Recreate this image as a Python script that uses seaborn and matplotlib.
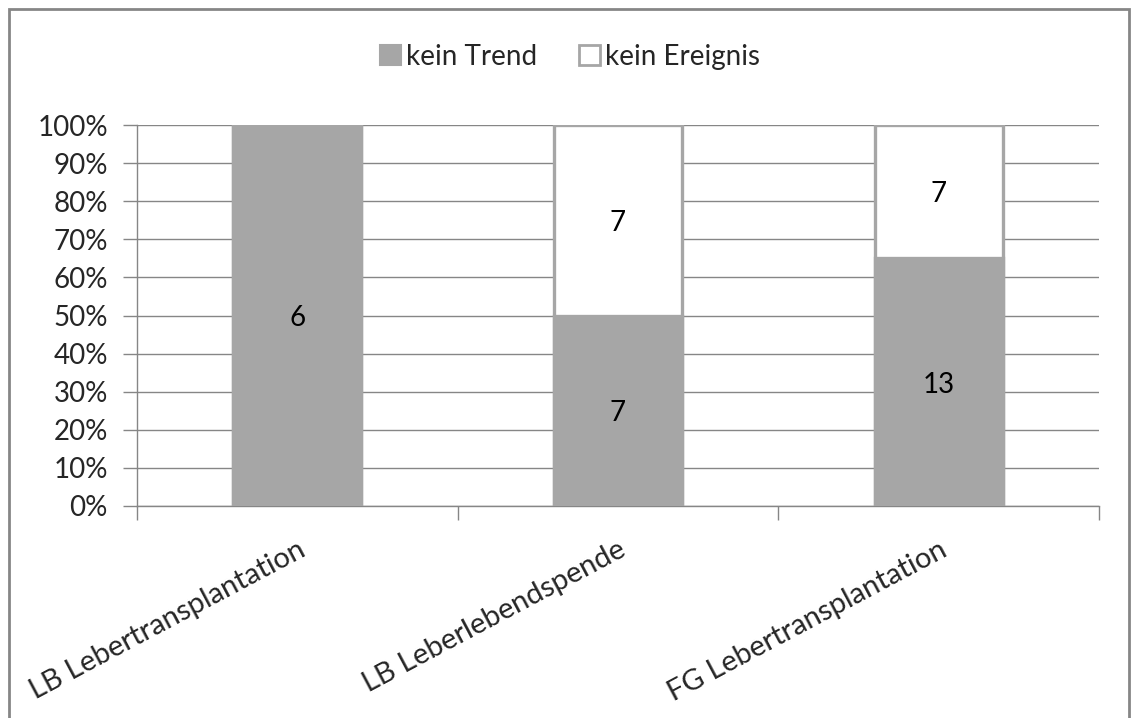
import matplotlib
matplotlib.use("Agg")
import matplotlib.pyplot as plt
from matplotlib.patches import Rectangle
from matplotlib.ticker import FixedLocator, PercentFormatter
import seaborn as sns
import pandas as pd

categories = ["LB Lebertransplantation", "LB Leberlebendspende", "FG Lebertransplantation"]
kein_trend = [6, 7, 13]
kein_ereignis = [0, 7, 7]
series_names = ["kein Trend", "kein Ereignis"]

GRAY = "#A6A6A6"
AXIS = "#868686"
FS = 20

sns.set_theme(style="white")
plt.rcParams["font.family"] = ["Lato", "DejaVu Sans"]

totals = [a + b for a, b in zip(kein_trend, kein_ereignis)]
df = pd.DataFrame({
    "Kategorie": categories,
    "trend_pct": [100 * a / t for a, t in zip(kein_trend, totals)],
    "total_pct": [100.0] * len(categories),
})

fig = plt.figure(figsize=(11.31, 7.18), dpi=100)
ax = fig.add_axes([137 / 1131, 1 - 506 / 718, (1099 - 137) / 1131, (506 - 125) / 718])

# gridlines behind bars
ax.set_axisbelow(True)
ax.yaxis.grid(True, color=AXIS, linewidth=1.0)

# full-height stack (white segment) then the gray lower segment on top
sns.barplot(data=df, x="Kategorie", y="total_pct", color="white", width=0.4,
            edgecolor=GRAY, linewidth=2.4, saturation=1, ax=ax, zorder=2)
sns.barplot(data=df, x="Kategorie", y="trend_pct", color=GRAY, width=0.4,
            edgecolor=GRAY, linewidth=2.4, saturation=1, ax=ax, zorder=3)

# value labels centred in each segment
for i, (a, b) in enumerate(zip(kein_trend, kein_ereignis)):
    t = a + b
    if a:
        ax.text(i, 100 * a / t / 2, str(a), ha="center", va="center_baseline",
                fontsize=FS, color="black", zorder=5)
    if b:
        ax.text(i, 100 * a / t + 100 * b / t / 2, str(b), ha="center", va="center_baseline",
                fontsize=FS, color="black", zorder=5)

ax.set_xlim(-0.5, len(categories) - 0.5)
ax.set_ylim(0, 100)
ax.yaxis.set_major_locator(FixedLocator(range(0, 101, 10)))
ax.yaxis.set_major_formatter(PercentFormatter(decimals=0))

# ticks at category boundaries, labels at centres
ax.xaxis.set_major_locator(FixedLocator([i - 0.5 for i in range(len(categories) + 1)]))
ax.xaxis.set_major_formatter(plt.NullFormatter())
ax.xaxis.set_minor_locator(FixedLocator(range(len(categories))))
ax.set_xticklabels(categories, minor=True)
ax.tick_params(axis="x", which="major", length=10, width=1, color=AXIS, direction="out", bottom=True)
ax.tick_params(axis="x", which="minor", length=0, pad=22, labelsize=FS + 1)
ax.tick_params(axis="y", which="major", length=10, width=1, color=AXIS, direction="out", left=True,
               labelsize=FS, pad=11)
for lab in ax.get_xticklabels(minor=True):
    lab.set_rotation(28)
    lab.set_ha("right")
    lab.set_va("top")
    lab.set_rotation_mode("anchor")

ax.set_xlabel("")
ax.set_ylabel("")
for side in ["top", "right"]:
    ax.spines[side].set_visible(False)
for side in ["left", "bottom"]:
    ax.spines[side].set_color(AXIS)
    ax.spines[side].set_linewidth(1.0)

# legend
handles = [Rectangle((0, 0), 1, 1, facecolor=GRAY, edgecolor=GRAY, linewidth=1.5),
           Rectangle((0, 0), 1, 1, facecolor="white", edgecolor=GRAY, linewidth=2.0)]
fig.legend(handles, series_names, loc="center", bbox_to_anchor=(570 / 1131, 1 - 57 / 718),
           ncol=2, frameon=False, fontsize=FS, handlelength=0.75, handleheight=0.75,
           handletextpad=0.2, columnspacing=1.5)

# chart frame
fig.patches.append(Rectangle((9 / 1131, -0.05), (1129 - 9) / 1131, 1.05 - 9 / 718,
                             transform=fig.transFigure, fill=False, edgecolor=AXIS,
                             linewidth=2.0, zorder=0))

fig.savefig("out.png", dpi=100)
